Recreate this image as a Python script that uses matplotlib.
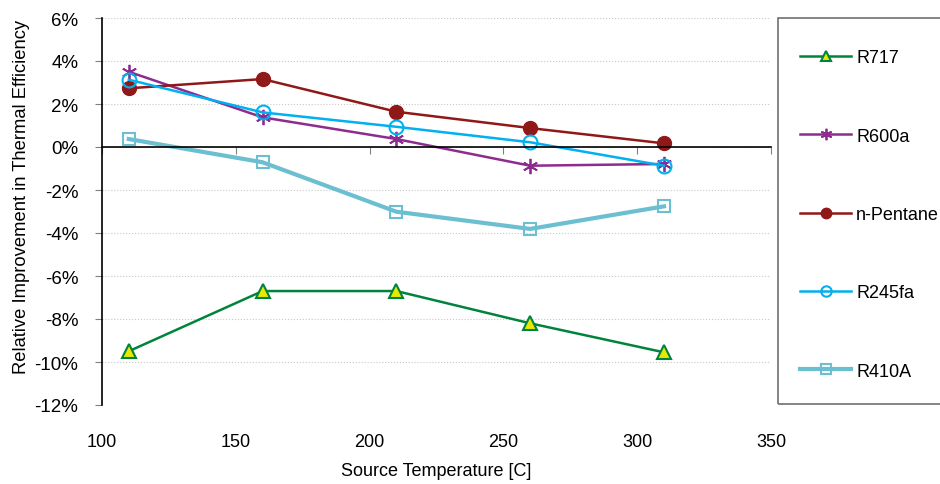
import numpy as np
import matplotlib
matplotlib.use('Agg')
import matplotlib.pyplot as plt
from matplotlib.patches import Rectangle
from matplotlib.ticker import PercentFormatter

plt.rcParams['font.family'] = ['Liberation Sans', 'DejaVu Sans']
plt.rcParams['axes.unicode_minus'] = False

temps = [110, 160, 210, 260, 310]
r717 = [-9.5, -6.7, -6.7, -8.2, -9.55]
r600a = [3.5, 1.38, 0.37, -0.87, -0.79]
pentane = [2.73, 3.16, 1.64, 0.88, 0.17]
r245fa = [3.13, 1.61, 0.94, 0.22, -0.87]
r410a = [0.37, -0.71, -3.01, -3.81, -2.76]

x_ticks = [100, 150, 200, 250, 300, 350]
y_ticks = [-12, -10, -8, -6, -4, -2, 0, 2, 4, 6]

fig = plt.figure(figsize=(9.4, 4.85), dpi=100)
ax = fig.add_axes([102/940, 1-406/485, (771-102)/940, (406-19)/485])

ax.plot(temps, r717, c='#00843d', lw=1.8, marker='^', ms=10,
        mfc='#e8e800', mec='#00843d', mew=1.5, label='R717')
ax.plot(temps, r600a, c='#8e2b8e', lw=1.8, marker=(6, 2, 0), ms=11,
        mfc='#8e2b8e', mec='#8e2b8e', mew=1.3, label='R600a')
ax.plot(temps, pentane, c='#901818', lw=1.8, marker='o', ms=10,
        mfc='#901818', mec='#901818', label='n-Pentane')
ax.plot(temps, r245fa, c='#00b0f0', lw=1.8, marker='o', ms=10,
        mfc='none', mec='#00b0f0', mew=1.5, label='R245fa')
ax.plot(temps, r410a, c='#6cbfd0', lw=3, marker='s', ms=9,
        mfc='none', mec='#6cbfd0', mew=1.5, label='R410A')

ax.set_xlim(100, 350)
ax.set_ylim(-12, 6)
ax.set_yticks(y_ticks)
ax.yaxis.set_major_formatter(PercentFormatter(decimals=0))
ax.grid(axis='y', color='#c8c8c8', ls=':', lw=0.8)
ax.set_axisbelow(True)

ax.spines['top'].set_visible(False)
ax.spines['right'].set_visible(False)
ax.spines['bottom'].set_position(('data', 0))
ax.spines['left'].set_linewidth(1.2)
ax.spines['bottom'].set_linewidth(1.2)
ax.set_xticks(x_ticks)
ax.tick_params(axis='x', direction='out', length=5, color='#808080', labelbottom=False)
ax.tick_params(axis='y', direction='out', length=5, color='#808080', labelsize=13.5, pad=12)

sec = ax.secondary_xaxis('bottom')
sec.set_xticks(x_ticks)
sec.spines['bottom'].set_visible(False)
sec.tick_params(length=0, labelsize=13, pad=20)
sec.set_xlabel('Source Temperature [C]', fontsize=13, labelpad=9)

ax.set_ylabel('Relative Improvement in Thermal Efficiency', fontsize=13.2)
ax.yaxis.set_label_coords(-0.107, 0.54)

fig.patches.append(Rectangle((778/940, 1-405/485), 200/940, (405-19)/485,
                             transform=fig.transFigure, fill=False,
                             edgecolor='#707070', lw=1.2))
fig.legend(loc='upper left', bbox_to_anchor=(784/940, 1-34/485), frameon=False,
           fontsize=13, labelspacing=3.4, handlelength=2.8, handletextpad=0.3,
           markerscale=0.75)

fig.savefig('out.png', dpi=100)
